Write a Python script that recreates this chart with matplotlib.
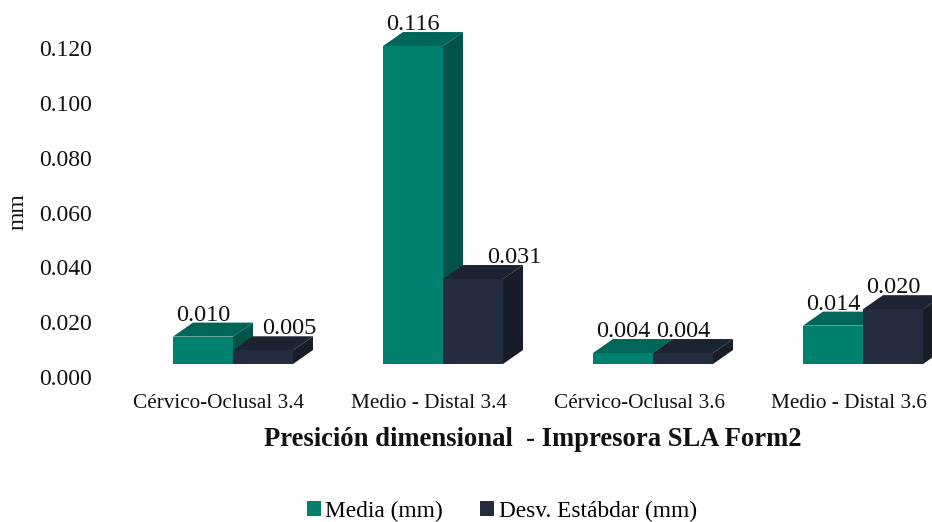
import numpy as np
import matplotlib.pyplot as plt
from matplotlib.patches import Polygon, Patch
from matplotlib.transforms import ScaledTranslation, blended_transform_factory

categories = ["Cérvico-Oclusal 3.4", "Medio - Distal 3.4", "Cérvico-Oclusal 3.6", "Medio - Distal 3.6"]
media = [0.010, 0.116, 0.004, 0.014]
desv = [0.005, 0.031, 0.004, 0.020]
series_names = ["Media (mm)", "Desv. Estábdar (mm)"]
yticks = [0.000, 0.020, 0.040, 0.060, 0.080, 0.100, 0.120]

# face colours: front, top, side
green = ["#00806F", "#00665A", "#005548"]
navy = ["#242C3F", "#1C2333", "#181D2A"]

plt.rcParams["font.family"] = ["Liberation Serif", "DejaVu Serif"]

W, H, DPI = 932, 522, 100
fig = plt.figure(figsize=(W / DPI, H / DPI), dpi=DPI)

# axes geometry in pixels
ax_l, ax_r, ax_t, ax_b = 100, 932, 20, 364
ax = fig.add_axes([ax_l / W, 1 - ax_b / H, (ax_r - ax_l) / W, (ax_b - ax_t) / H])
px_per_x = 210.0
px_per_y = 2741.0
first_center = 233
ax.set_xlim(-(first_center - ax_l) / px_per_x, (ax_r - first_center) / px_per_x)
ax.set_ylim(0, (ax_b - ax_t) / px_per_y)

bw = 60 / px_per_x
ddx = 20 / px_per_x   # depth offset
ddy = 14 / px_per_y


def bar3d(x0, h, cols):
    x1 = x0 + bw
    front = Polygon([(x0, 0), (x1, 0), (x1, h), (x0, h)], closed=True, fc=cols[0], ec="none")
    top = Polygon([(x0, h), (x1, h), (x1 + ddx, h + ddy), (x0 + ddx, h + ddy)], closed=True, fc=cols[1], ec="none")
    side = Polygon([(x1, 0), (x1 + ddx, ddy), (x1 + ddx, h + ddy), (x1, h)], closed=True, fc=cols[2], ec="none")
    for p in (side, top, front):
        p.set_clip_on(False)
        ax.add_patch(p)


x = np.arange(len(categories))
# label shifts in pixels (to avoid overlaps)
lab_shift = {(0, 1): 26, (1, 1): 41}
for i in x:
    for s, (vals, cols) in enumerate([(media, green), (desv, navy)]):
        x0 = i - bw if s == 0 else i
        v = vals[i]
        bar3d(x0, v, cols)
        off = ScaledTranslation(lab_shift.get((i, s), 0) / DPI, 2 / DPI, fig.dpi_scale_trans)
        ax.text(x0 + bw / 2, v + ddy, f"{v:.3f}", ha="center", va="baseline",
                fontsize=17.5, color="#111111", transform=ax.transData + off, clip_on=False)

for sp in ax.spines.values():
    sp.set_visible(False)

ax.set_yticks(yticks)
ax.set_yticklabels([f"{t:.3f}" for t in yticks], fontsize=17, color="#111111")
ax.tick_params(axis="y", length=0, pad=6)
for lab in ax.get_yticklabels():
    lab.set_transform(lab.get_transform() + ScaledTranslation(0, -13 / DPI, fig.dpi_scale_trans))

ax.set_xticks([])
trans = blended_transform_factory(ax.transData, fig.transFigure)
for i, c in zip(x, categories):
    ax.text(i - 14 / px_per_x, 1 - 403 / H, c, ha="center", va="center", fontsize=15.3,
            color="#111111", transform=trans)

fig.text(18 / W, 1 - 212 / H, "mm", rotation=90, ha="center", va="center", fontsize=17, color="#111111")
fig.text(533 / W, 1 - 440 / H, "Presición dimensional  - Impresora SLA Form2", ha="center", va="center",
         fontsize=19.2, fontweight="bold", color="#111111")

handles = [Patch(fc=green[0], ec="none"), Patch(fc=navy[0], ec="none")]
fig.legend(handles, series_names, loc="center", bbox_to_anchor=(502 / W, 1 - 511 / H), ncol=2,
           frameon=False, fontsize=16.8, handlelength=0.6, handleheight=0.6, handletextpad=0.2,
           columnspacing=1.6)

fig.savefig("out.png", dpi=DPI)
